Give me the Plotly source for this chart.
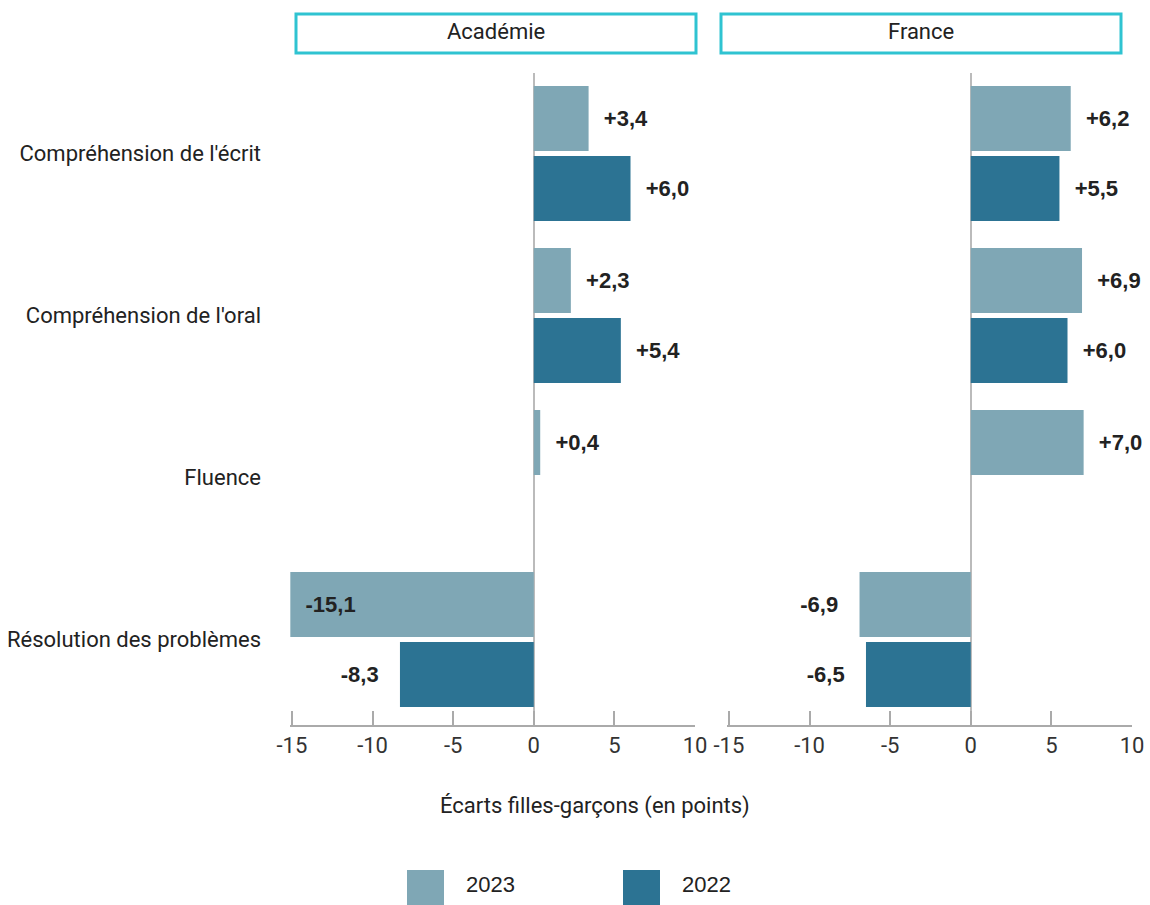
import plotly.graph_objects as go

categories = ["Compréhension de l'écrit", "Compréhension de l'oral", "Fluence", "Résolution des problèmes"]
panels = ["Académie", "France"]
academie_2023 = [3.4, 2.3, 0.4, -15.1]
academie_2022 = [6.0, 5.4, None, -8.3]
france_2023 = [6.2, 6.9, 7.0, -6.9]
france_2022 = [5.5, 6.0, None, -6.5]
x_ticks = [-15, -10, -5, 0, 5, 10]
series_names = ["2023", "2022"]

C23 = "#7FA7B5"
C22 = "#2C7393"
BORDER = "#2FC3D1"
TXT = "#222222"
FONT = "Roboto"
W, H = 1150, 905
NB = "\u00a0"


def fmt(v):
    s = f"{abs(v):.1f}".replace(".", ",")
    return ("+" if v >= 0 else "-") + s


def labels(vals, xmin):
    texts, pos = [], []
    for v in vals:
        if v is None:
            texts.append(None); pos.append("none"); continue
        t = fmt(v)
        if v < xmin:
            texts.append(NB * 2 + t); pos.append("inside")
        elif v >= 0:
            texts.append(NB * 2 + t); pos.append("outside")
        else:
            texts.append(t + NB * 3); pos.append("outside")
    return texts, pos


fig = go.Figure()
data = [(academie_2023, academie_2022, "x", "y"), (france_2023, france_2022, "x2", "y2")]
for (v23, v22, xa, ya) in data:
    for vals, name, col in [(v23, series_names[0], C23), (v22, series_names[1], C22)]:
        t, p = labels(vals, x_ticks[0])
        fig.add_trace(go.Bar(
            y=categories, x=vals, orientation="h", name=name,
            marker=dict(color=col, line=dict(width=0)),
            text=t, textposition=p, insidetextanchor="end",
            textfont=dict(family="Liberation Sans", size=22, color=TXT, weight="bold"),
            cliponaxis=False, showlegend=False, xaxis=xa, yaxis=ya,
            hoverinfo="skip",
        ))

ydom = [1 - 725 / H, 1 - 72.5 / H]
xdom1 = [290 / W, 695 / W]
xdom2 = [727 / W, 1132 / W]
axis_common = dict(
    range=[x_ticks[0] - 0.12, x_ticks[-1]], tickvals=x_ticks, ticktext=[str(v) for v in x_ticks],
    showgrid=False, zeroline=True, zerolinecolor="#BBBBBB", zerolinewidth=1.5,
    showline=True, linecolor="#AAAAAA", linewidth=2, automargin=False,
    ticks="inside", ticklen=14, tickcolor="#AAAAAA", tickwidth=1.5,
    tickfont=dict(family=FONT, size=22, color="#333333"),
)
yaxis_common = dict(range=[3.528, -0.5], showgrid=False, zeroline=False, showline=False,
                    ticks="", automargin=False)

fig.update_layout(
    width=W, height=H, margin=dict(l=0, r=0, t=0, b=0, pad=0), autosize=False,
    plot_bgcolor="white", paper_bgcolor="white",
    barmode="group", bargap=0.136, bargroupgap=0.071,
    showlegend=False,
    xaxis=dict(domain=xdom1, anchor="y", **axis_common),
    xaxis2=dict(domain=xdom2, anchor="y2", **axis_common),
    yaxis=dict(domain=ydom, anchor="x", tickfont=dict(family=FONT, size=22, color=TXT),
               ticklabelstandoff=28, **yaxis_common),
    yaxis2=dict(domain=ydom, anchor="x2", showticklabels=False, **yaxis_common),
)

# Facet headers
for name, (x0, x1) in zip(panels, [(296, 696), (721, 1121)]):
    fig.add_shape(type="rect", xref="paper", yref="paper",
                  x0=x0 / W, x1=x1 / W, y0=1 - 53 / H, y1=1 - 14 / H,
                  line=dict(color=BORDER, width=3), fillcolor="white")
    fig.add_annotation(text=name, xref="paper", yref="paper", x=(x0 + x1) / 2 / W,
                       y=1 - 31 / H, showarrow=False, xanchor="center", yanchor="middle",
                       font=dict(family=FONT, size=22, color=TXT))

# Axis title
fig.add_annotation(text="Écarts filles-garçons (en points)", xref="paper", yref="paper",
                   x=595 / W, y=1 - 806 / H, showarrow=False, xanchor="center", yanchor="middle",
                   font=dict(family=FONT, size=22, color=TXT))

# Legend
for name, col, sx in [(series_names[0], C23, 407), (series_names[1], C22, 623)]:
    fig.add_shape(type="rect", xref="paper", yref="paper",
                  x0=sx / W, x1=(sx + 37) / W, y0=1 - 905 / H, y1=1 - 870 / H,
                  line=dict(width=0), fillcolor=col)
    fig.add_annotation(text=name, xref="paper", yref="paper", x=(sx + 57) / W,
                       y=1 - 884 / H, showarrow=False, xanchor="left", yanchor="middle",
                       font=dict(family="Liberation Sans", size=22, color=TXT))

fig.write_html("out.html", config={"displayModeBar": False},
               post_script="document.body.style.margin='0';document.body.style.overflow='hidden';")
